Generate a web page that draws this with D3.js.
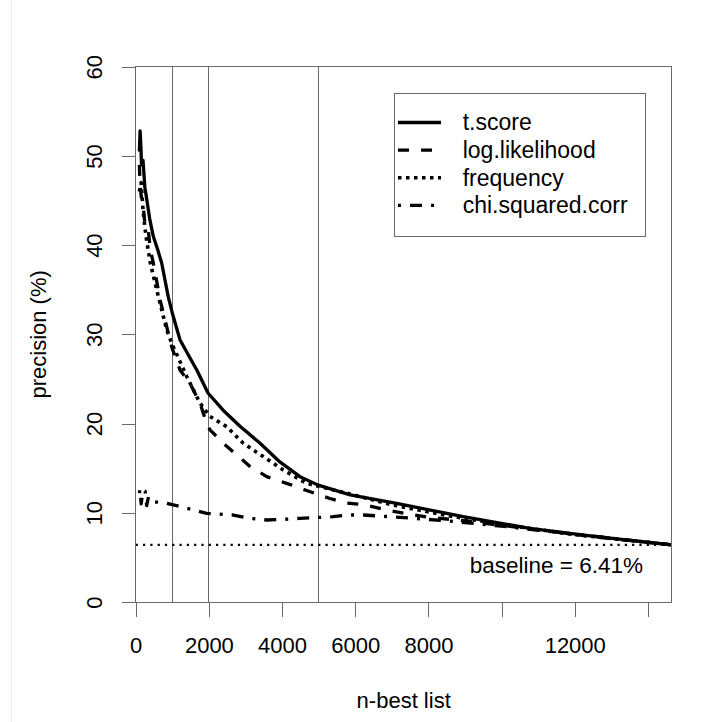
<!DOCTYPE html>
<html>
<head>
<meta charset="utf-8">
<script src="https://cdn.jsdelivr.net/npm/d3@7"></script>
<style>
  body { margin: 0; background: #fff; }
  svg { display: block; font-family: "Liberation Sans", Arial, Helvetica, sans-serif; }
</style>
</head>
<body>
<div id="chart"></div>
<script>
const width = 720;
const height = 722;

// n-best list size (x) and precision in % (y)
const tScoreN = [100, 120, 140, 160, 200, 250, 300, 380, 480, 600, 710, 890, 1000, 1210, 1450, 1670, 1980, 2390, 2850, 3400, 3940, 4490, 4990, 5860, 7130, 8950, 10770, 12590, 14650];
const tScoreP = [50.5, 52.8, 51.2, 49.0, 49.5, 46.5, 45.2, 43.0, 41.0, 39.5, 38.0, 34.2, 32.4, 29.4, 27.6, 26.0, 23.4, 21.5, 19.7, 17.8, 15.7, 14.05, 13.1, 12.0, 11.06, 9.56, 8.26, 7.32, 6.41];

const logLikN = [100, 117, 150, 208, 260, 344, 400, 481, 617, 664, 984, 1210, 1483, 1757, 1940, 2030, 2393, 2760, 3123, 3580, 4125, 4672, 5308, 5765, 6218, 7131, 8000, 9000, 10770, 12590, 14650];
const logLikP = [49.0, 47.0, 45.5, 44.3, 42.0, 41.7, 39.5, 38.0, 35.0, 33.9, 28.6, 26.0, 24.5, 22.3, 20.0, 19.3, 17.8, 16.5, 15.2, 14.05, 13.3, 12.5, 11.6, 11.1, 10.9, 10.1, 9.5, 9.1, 8.2, 7.28, 6.41];

const freqN = [100, 150, 200, 250, 300, 400, 574, 847, 984, 1393, 1757, 2030, 2486, 2940, 3486, 4032, 4672, 5218, 5765, 7000, 8500, 10000, 12000, 14650];
const freqP = [46.0, 47.0, 44.0, 42.0, 40.5, 38.0, 35.0, 30.5, 29.0, 25.3, 22.3, 20.8, 19.65, 17.8, 16.3, 14.8, 13.3, 12.75, 12.2, 10.9, 9.7, 8.7, 7.55, 6.41];

const chiN = [100, 117, 150, 200, 260, 300, 350, 420, 500, 600, 847, 1210, 1500, 1940, 2667, 3123, 3580, 4000, 4490, 5400, 5765, 6218, 6950, 7580, 8500, 10000, 12000, 14650];
const chiP = [12.2, 12.6, 11.0, 12.5, 12.4, 10.8, 11.8, 11.5, 11.2, 11.2, 11.06, 10.7, 10.4, 9.94, 9.75, 9.38, 9.19, 9.25, 9.38, 9.56, 9.75, 9.75, 9.56, 9.38, 9.1, 8.5, 7.6, 6.41];

const seriesNames = ["t.score", "log.likelihood", "frequency", "chi.squared.corr"];
const cutoffs = [0, 1000, 2000, 5000];
const baseline = 6.41;
const xTicks = [0, 2000, 4000, 6000, 8000, 10000, 12000, 14000];
const xTickLabels = ["0", "2000", "4000", "6000", "8000", "", "12000", ""];
const yTicks = [0, 10, 20, 30, 40, 50, 60];

const styles = [
  { dash: null, w: 3.3 },
  { dash: "11,12", w: 3.3 },
  { dash: "3.5,4.5", w: 3.6 },
  { dash: "3,9,12,9", w: 3.3 }
];
const axisColor = "#6a6a6a";

const x = d3.scaleLinear().domain([0, 14650]).range([135.7, 671.7]);
const y = d3.scaleLinear().domain([0, 60]).range([602, 66.7]);

const svg = d3.select("#chart").append("svg")
  .attr("width", width)
  .attr("height", height);

// faint frame on the left
svg.append("line")
  .attr("x1", 11.5).attr("x2", 11.5).attr("y1", 0).attr("y2", height)
  .attr("stroke", "#ececec");

// vertical cut-off lines
svg.selectAll(".cut")
  .data(cutoffs)
  .join("line")
  .attr("x1", (d) => x(d)).attr("x2", (d) => x(d))
  .attr("y1", y(60)).attr("y2", y(0))
  .attr("stroke", axisColor)
  .attr("shape-rendering", "crispEdges");

// baseline
svg.append("line")
  .attr("x1", x(0)).attr("x2", x(14650))
  .attr("y1", y(baseline)).attr("y2", y(baseline))
  .attr("stroke", "#000")
  .attr("stroke-width", 2.2)
  .attr("stroke-dasharray", "2.2,5.1");

svg.append("text")
  .attr("x", 643).attr("y", 573)
  .attr("text-anchor", "end")
  .style("font-size", "22.5px")
  .text("baseline = " + baseline + "%");

const line = d3.line().x((d) => x(d[0])).y((d) => y(d[1]));
const seriesData = [
  d3.zip(tScoreN, tScoreP),
  d3.zip(logLikN, logLikP),
  d3.zip(freqN, freqP),
  d3.zip(chiN, chiP)
];

svg.selectAll(".series")
  .data(seriesData)
  .join("path")
  .classed("series", true)
  .attr("d", line)
  .attr("fill", "none")
  .attr("stroke", "#000")
  .attr("stroke-width", (d, i) => styles[i].w)
  .attr("stroke-dasharray", (d, i) => styles[i].dash)
  .attr("stroke-linejoin", "round");

// box
svg.append("rect")
  .attr("x", x(0)).attr("y", y(60))
  .attr("width", x(14650) - x(0)).attr("height", y(0) - y(60))
  .attr("fill", "none")
  .attr("stroke", axisColor)
  .attr("shape-rendering", "crispEdges");

// x axis
const xAxis = svg.append("g")
  .attr("transform", `translate(0,${y(0)})`)
  .call(d3.axisBottom(x)
    .tickValues(xTicks)
    .tickSize(15)
    .tickPadding(20)
    .tickFormat((d, i) => xTickLabels[i]));
xAxis.select(".domain").remove();
xAxis.selectAll("line").attr("stroke", axisColor).attr("shape-rendering", "crispEdges");
xAxis.selectAll("text")
  .attr("fill", "#000")
  .style("font-size", "22px")
  .style("font-family", "\"Liberation Sans\", Arial, sans-serif");

// y axis
const yAxis = svg.append("g")
  .attr("transform", `translate(${x(0)},0)`)
  .call(d3.axisLeft(y).tickValues(yTicks).tickSize(14).tickFormat(d3.format("d")));
yAxis.select(".domain").remove();
yAxis.selectAll("line").attr("stroke", axisColor).attr("shape-rendering", "crispEdges");
yAxis.selectAll("text")
  .attr("x", null).attr("dy", null)
  .attr("text-anchor", "middle")
  .attr("transform", "translate(-33.7,0) rotate(-90)")
  .attr("fill", "#000")
  .style("font-size", "22px")
  .style("font-family", "\"Liberation Sans\", Arial, sans-serif");

// axis titles
svg.append("text")
  .attr("x", (x(0) + x(14650)) / 2).attr("y", 708)
  .attr("text-anchor", "middle")
  .style("font-size", "22px")
  .text("n-best list");

svg.append("text")
  .attr("transform", `translate(46,${(y(0) + y(60)) / 2}) rotate(-90)`)
  .attr("text-anchor", "middle")
  .style("font-size", "22px")
  .text("precision (%)");

// legend
const legend = svg.append("g");
legend.append("rect")
  .attr("x", 394).attr("y", 93.3)
  .attr("width", 251).attr("height", 143.4)
  .attr("fill", "#fff")
  .attr("stroke", axisColor)
  .attr("shape-rendering", "crispEdges");

const rowY = (i) => 122.5 + i * 27.6;
legend.selectAll(".key")
  .data(seriesNames)
  .join("line")
  .classed("key", true)
  .attr("x1", 398).attr("x2", 441)
  .attr("y1", (d, i) => rowY(i)).attr("y2", (d, i) => rowY(i))
  .attr("stroke", "#000")
  .attr("stroke-width", (d, i) => styles[i].w)
  .attr("stroke-dasharray", (d, i) => styles[i].dash);

legend.selectAll(".lab")
  .data(seriesNames)
  .join("text")
  .classed("lab", true)
  .attr("x", 462.7)
  .attr("y", (d, i) => rowY(i) + 7.8)
  .style("font-size", "23px")
  .text((d) => d);
</script>
</body>
</html>
